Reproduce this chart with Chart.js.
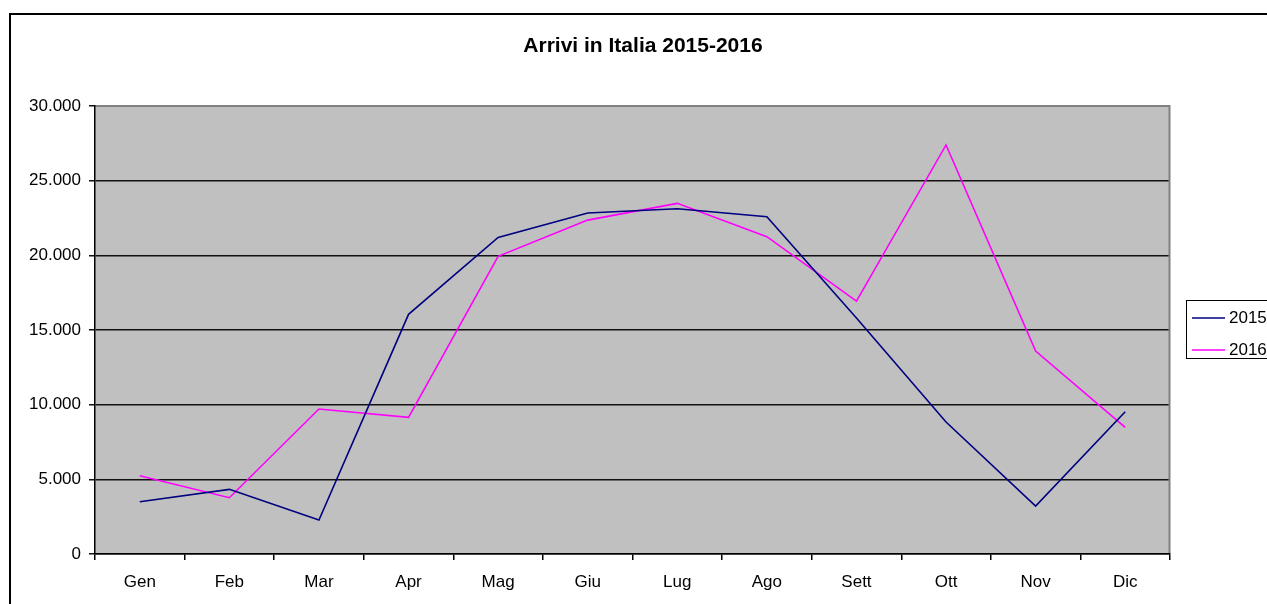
<!DOCTYPE html>
<html>
<head>
<meta charset="utf-8">
<script src="https://cdn.jsdelivr.net/npm/chart.js@4/dist/chart.umd.min.js"></script>
<style>
  html, body { margin: 0; padding: 0; background: #fff; }
  canvas { display: block; }
</style>
</head>
<body>
<canvas id="chart" width="1267" height="604"></canvas>
<script>
const months = ['Gen', 'Feb', 'Mar', 'Apr', 'Mag', 'Giu', 'Lug', 'Ago', 'Sett', 'Ott', 'Nov', 'Dic'];
const arrivi2015 = [3500, 4330, 2280, 16050, 21200, 22830, 23120, 22590, 15800, 8840, 3210, 9530];
const arrivi2016 = [5240, 3770, 9710, 9150, 19930, 22360, 23480, 21250, 16940, 27390, 13590, 8480];
const yTicks = [0, 5000, 10000, 15000, 20000, 25000, 30000];
const chartTitle = 'Arrivi in Italia 2015-2016';

const FONT = 'Arial, "Liberation Sans", sans-serif';

const formatNum = v => String(v).replace(/\B(?=(\d{3})+(?!\d))/g, '.');

// background, frame, title and legend
const decorations = {
  id: 'decorations',
  beforeDraw(chart) {
    const { ctx, chartArea: a } = chart;
    ctx.save();
    ctx.fillStyle = '#fff';
    ctx.fillRect(0, 0, chart.width, chart.height);
    ctx.strokeStyle = '#000';
    ctx.lineWidth = 2;
    ctx.strokeRect(10, 14, chart.width + 20, chart.height + 20);
    ctx.fillStyle = '#c0c0c0';
    ctx.fillRect(a.left, a.top, a.right - a.left, a.bottom - a.top);
    ctx.fillStyle = '#000';
    ctx.font = 'bold 21px ' + FONT;
    ctx.textAlign = 'center';
    ctx.textBaseline = 'middle';
    ctx.fillText(chartTitle, 643, 46);
    ctx.restore();
  },
  beforeDatasetsDraw(chart) {
    const { ctx, chartArea: a } = chart;
    ctx.save();
    ctx.strokeStyle = '#808080';
    ctx.lineWidth = 2;
    ctx.beginPath();
    ctx.moveTo(a.left + 1, a.top);
    ctx.lineTo(a.right - 0.5, a.top);
    ctx.lineTo(a.right - 0.5, a.bottom - 1);
    ctx.stroke();
    ctx.restore();
  },
  afterDraw(chart) {
    const { ctx } = chart;
    ctx.save();
    ctx.fillStyle = '#fff';
    ctx.fillRect(1186, 300, 100, 59);
    ctx.strokeStyle = '#000';
    ctx.lineWidth = 1;
    ctx.strokeRect(1186.5, 300.5, 100, 58);
    ctx.font = '17px ' + FONT;
    ctx.textBaseline = 'middle';
    ctx.textAlign = 'left';
    chart.data.datasets.forEach((ds, i) => {
      const y = 318 + i * 32;
      ctx.strokeStyle = ds.borderColor;
      ctx.lineWidth = 1.5;
      ctx.beginPath();
      ctx.moveTo(1192, y);
      ctx.lineTo(1225, y);
      ctx.stroke();
      ctx.fillStyle = '#000';
      ctx.fillText(ds.label, 1229, y);
    });
    ctx.restore();
  }
};

new Chart(document.getElementById('chart'), {
  type: 'line',
  data: {
    labels: months,
    datasets: [
      { label: '2015', data: arrivi2015, borderColor: '#000080', borderWidth: 1.6, pointRadius: 0, tension: 0, fill: false },
      { label: '2016', data: arrivi2016, borderColor: '#ff00ff', borderWidth: 1.6, pointRadius: 0, tension: 0, fill: false }
    ]
  },
  options: {
    responsive: false,
    animation: false,
    layout: { padding: { left: 0, top: 106, right: 97, bottom: 0 } },
    plugins: {
      legend: { display: false },
      title: { display: false },
      tooltip: { enabled: false }
    },
    scales: {
      x: {
        offset: true,
        afterFit(scale) { scale.height = 50; },
        grid: { offset: true, drawOnChartArea: false, drawTicks: true, tickLength: 6, color: '#000', lineWidth: 1.5 },
        border: { color: '#000', width: 1.5 },
        ticks: { color: '#000', font: { family: FONT, size: 17 }, padding: 12, maxRotation: 0 }
      },
      y: {
        min: 0,
        max: 30000,
        afterFit(scale) { scale.width = 95; },
        afterBuildTicks(scale) { scale.ticks = yTicks.map(v => ({ value: v })); },
        grid: { color: '#111', lineWidth: 1.5, drawTicks: true, tickLength: 6 },
        border: { color: '#000', width: 1.5 },
        ticks: { color: '#000', font: { family: FONT, size: 17 }, padding: 8, callback: v => formatNum(v) }
      }
    }
  },
  plugins: [decorations]
});
</script>
</body>
</html>
